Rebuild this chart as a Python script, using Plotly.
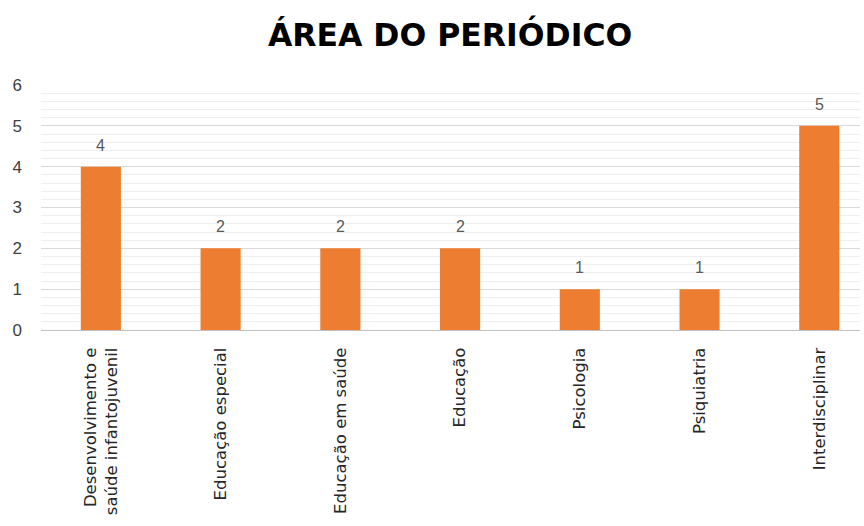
import plotly.graph_objects as go

categories = ["Desenvolvimento e<br>saúde infantojuvenil", "Educação especial", "Educação em saúde",
              "Educação", "Psicologia", "Psiquiatria", "Interdisciplinar"]
values = [4, 2, 2, 2, 1, 1, 5]
title_text = "ÁREA DO PERIÓDICO"

fig = go.Figure()
fig.add_trace(go.Bar(x=categories, y=values, marker=dict(color="#ED7D31", line=dict(width=0)),
                     width=0.335, hoverinfo="skip"))

for c, v in zip(categories, values):
    fig.add_annotation(x=c, y=v, text=str(v), showarrow=False, yanchor="bottom", yshift=11,
                       font=dict(family="Liberation Sans, Arial", size=16, color="#595959"))

fig.update_layout(
    width=864, height=526,
    margin=dict(l=41, r=4, t=85, b=196),
    paper_bgcolor="white", plot_bgcolor="white",
    title=dict(text="<b>" + title_text + "</b>", x=0.521, xanchor="center", y=0.933, yanchor="middle",
               font=dict(family="DejaVu Sans", size=31.5, color="#000000")),
    showlegend=False,
)
fig.update_xaxes(range=[-0.5, 6.34], tickangle=-90, showgrid=False, showline=True, linecolor="#bfbfbf",
                 ticks="", automargin=False, ticklabelstandoff=10,
                 tickfont=dict(family="DejaVu Sans", size=16.5, color="#262626"))
fig.update_yaxes(range=[0, 6], dtick=1, showgrid=True, gridcolor="#d9d9d9", gridwidth=1,
                 minor=dict(dtick=0.2, showgrid=True, gridcolor="#efefef", gridwidth=1),
                 zeroline=False, showline=False, ticks="", automargin=False, ticklabelstandoff=18,
                 tickfont=dict(family="Liberation Sans, Arial", size=17, color="#404040"))
fig.write_html("out.html")
